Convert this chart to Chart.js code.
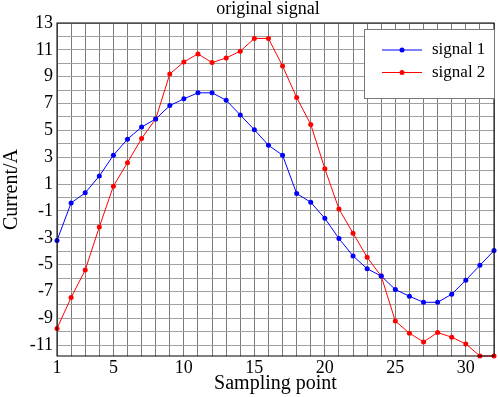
<!DOCTYPE html>
<html lang="en">
<head>
    <meta charset="UTF-8">
    <title>original signal</title>
    <script src="https://cdn.jsdelivr.net/npm/chart.js"></script>
</head>
<style>
    html, body { margin: 0; padding: 0; background: #fff; }
    #wrap { width: 498px; height: 397px; }
</style>
<body>
    <div id="wrap"><canvas id="signalChart" width="498" height="397"></canvas></div>

    <script>
        // Data
        const samplePoints = [1, 2, 3, 4, 5, 6, 7, 8, 9, 10, 11, 12, 13, 14, 15, 16,
                              17, 18, 19, 20, 21, 22, 23, 24, 25, 26, 27, 28, 29, 30, 31, 32];
        const signal1 = [-3.2, -0.4, 0.35, 1.6, 3.15, 4.35, 5.25, 5.85, 6.85, 7.35, 7.8, 7.8,
                         7.25, 6.15, 5.05, 3.9, 3.15, 0.3, -0.35, -1.55, -3.05, -4.35, -5.3, -5.85,
                         -6.85, -7.35, -7.8, -7.8, -7.2, -6.15, -5.05, -3.95];
        const signal2 = [-9.75, -7.45, -5.4, -2.2, 0.85, 2.6, 4.4, 5.85, 9.2, 10.1, 10.7, 10.05,
                         10.4, 10.9, 11.85, 11.85, 9.8, 7.45, 5.45, 2.15, -0.85, -2.65, -4.45, -5.85,
                         -9.2, -10.1, -10.75, -10.05, -10.4, -10.9, -11.8, -11.8];
        const seriesNames = ['signal 1', 'signal 2'];
        const xTickLabels = [1, 5, 10, 15, 20, 25, 30];
        const yTickLabels = [-11, -9, -7, -5, -3, -1, 1, 3, 5, 7, 9, 11, 13];
        const yMin = -11.8, yMax = 13;

        const serif = '"Liberation Serif", "DejaVu Serif", serif';

        // title, box border and the legend drawn inside the plot
        const decorations = {
            id: 'decorations',
            afterDatasetsDraw(chart) {
                const { ctx, chartArea: a } = chart;
                ctx.save();
                ctx.strokeStyle = '#000';
                ctx.lineWidth = 1;
                ctx.strokeRect(a.left, a.top, a.right - a.left, a.bottom - a.top);

                ctx.fillStyle = '#000';
                ctx.font = '18px ' + serif;
                ctx.textAlign = 'center';
                ctx.textBaseline = 'alphabetic';
                ctx.fillText('original signal', 268, 14);

                // legend box
                const bx = 364.5, by = 29.5, bw = 130, bh = 69;
                ctx.fillStyle = '#fff';
                ctx.fillRect(bx, by, bw, bh);
                ctx.strokeStyle = '#777';
                ctx.strokeRect(bx, by, bw, bh);
                chart.data.datasets.forEach((ds, i) => {
                    const y = 50 + i * 22.5;
                    ctx.strokeStyle = ds.borderColor;
                    ctx.lineWidth = 1;
                    ctx.beginPath();
                    ctx.moveTo(382, y);
                    ctx.lineTo(422, y);
                    ctx.stroke();
                    ctx.fillStyle = ds.borderColor;
                    ctx.beginPath();
                    ctx.arc(402, y, 2.5, 0, Math.PI * 2);
                    ctx.fill();
                    ctx.fillStyle = '#000';
                    ctx.font = '17px ' + serif;
                    ctx.textAlign = 'left';
                    ctx.textBaseline = 'middle';
                    ctx.fillText(ds.label, 432, y);
                });
                ctx.restore();
            }
        };

        const ctx = document.getElementById('signalChart').getContext('2d');
        const chart = new Chart(ctx, {
            type: 'line',
            data: {
                datasets: [{
                    label: seriesNames[0],
                    data: samplePoints.map((x, i) => ({ x: x, y: signal1[i] })),
                    borderColor: '#0000ff',
                    backgroundColor: '#0000ff',
                    borderWidth: 1,
                    pointRadius: 2.5,
                    pointBorderWidth: 0,
                    clip: false
                }, {
                    label: seriesNames[1],
                    data: samplePoints.map((x, i) => ({ x: x, y: signal2[i] })),
                    borderColor: '#ff0000',
                    backgroundColor: '#ff0000',
                    borderWidth: 1,
                    pointRadius: 2.5,
                    pointBorderWidth: 0,
                    clip: false
                }]
            },
            options: {
                responsive: false,
                animation: false,
                layout: { padding: { top: 23, right: 2, left: 0, bottom: 0 } },
                plugins: {
                    legend: { display: false },
                    title: { display: false },
                    tooltip: { enabled: false }
                },
                scales: {
                    x: {
                        type: 'linear',
                        min: 1,
                        max: 32,
                        afterBuildTicks: s => { s.ticks = samplePoints.map(v => ({ value: v })); },
                        afterFit: s => { s.height = 41; },
                        grid: { color: '#7a7a7a', lineWidth: 1, drawTicks: false },
                        border: { display: false },
                        ticks: {
                            autoSkip: false,
                            maxRotation: 0,
                            padding: 1,
                            color: '#000',
                            font: { family: serif, size: 18 },
                            callback: v => xTickLabels.includes(v) ? String(v) : ''
                        },
                        title: {
                            display: true,
                            text: 'Sampling point',
                            color: '#000',
                            font: { family: serif, size: 20 },
                            padding: { top: 0, bottom: 1 }
                        }
                    },
                    y: {
                        min: yMin,
                        max: yMax,
                        afterBuildTicks: s => {
                            const t = [];
                            for (let v = -11; v <= 13; v++) t.push({ value: v });
                            s.ticks = t;
                        },
                        afterFit: s => { s.width = 57; },
                        grid: { color: '#a0a0a0', lineWidth: 1, drawTicks: false },
                        border: { display: false },
                        ticks: {
                            autoSkip: false,
                            padding: 4,
                            color: '#000',
                            font: { family: serif, size: 18 },
                            callback: v => yTickLabels.includes(v) ? String(v) : ''
                        },
                        title: {
                            display: true,
                            text: 'Current/A',
                            color: '#000',
                            font: { family: serif, size: 20 },
                            padding: { top: 0, bottom: 0 }
                        }
                    }
                }
            },
            plugins: [decorations]
        });
    </script>
</body>
</html>
